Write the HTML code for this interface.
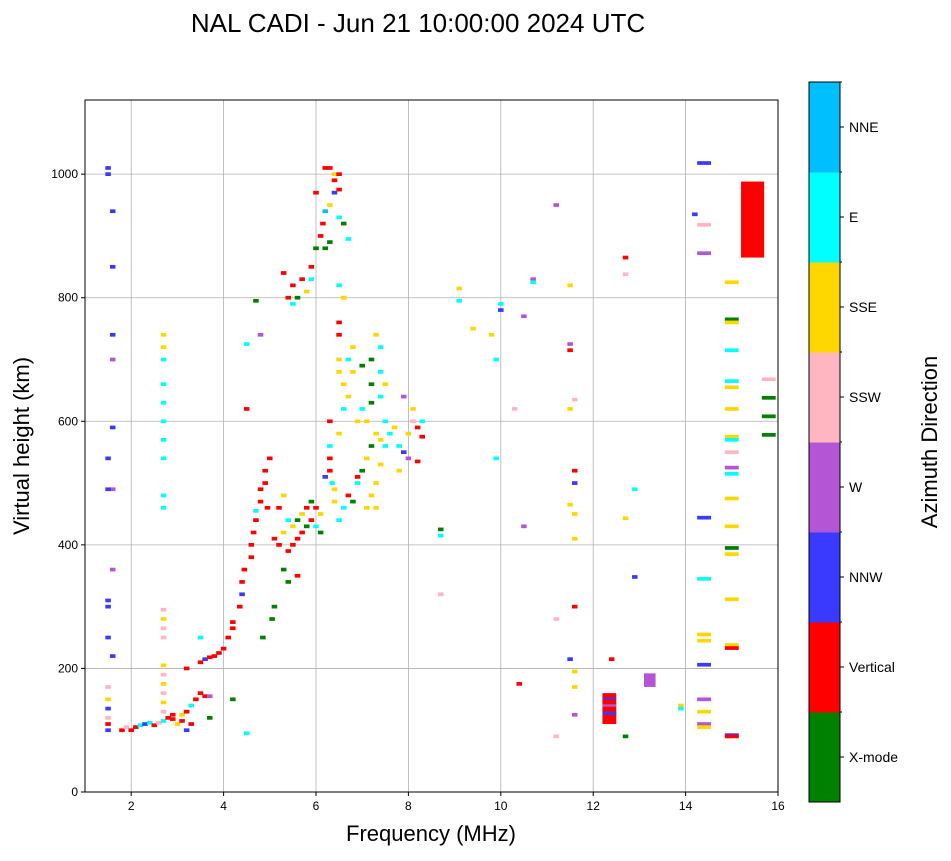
<!DOCTYPE html>
<html><head><meta charset="utf-8"><style>
body{margin:0;background:#fff;}
svg text{font-family:"Liberation Sans",sans-serif;}
</style></head><body>
<svg id="chart" width="951" height="856" xmlns="http://www.w3.org/2000/svg">
<rect width="951" height="856" fill="#fff"/>
<text x="418" y="32" font-size="26" text-anchor="middle">NAL CADI - Jun 21 10:00:00 2024 UTC</text>
<defs><clipPath id="plotclip"><rect x="85" y="100" width="693" height="692"/></clipPath></defs>
<g id="grid"></g>
<g id="marks" clip-path="url(#plotclip)"></g>
<rect x="85" y="100" width="693" height="692" fill="none" stroke="#000" stroke-width="1"/>
<g id="ticks"></g>
<text x="431" y="841" font-size="22" text-anchor="middle">Frequency (MHz)</text>
<text transform="translate(29,446) rotate(-90)" font-size="22" text-anchor="middle">Virtual height (km)</text>
<g id="cbar"></g>
<text transform="translate(937,442) rotate(-90)" font-size="22" text-anchor="middle">Azimuth Direction</text>
</svg>
<script>
const dirNames=["X-mode","Vertical","NNW","W","SSW","SSE","E","NNE"];
const dirColors=["#008000","#ff0000","#3a3aff","#b455d6","#ffb6c1","#ffd700","#00ffff","#00bfff"];
const xTicks=[2,4,6,8,10,12,14,16];
const yTicks=[0,200,400,600,800,1000];
const freq=[1.5,1.5,1.5,1.5,1.5,1.5,1.5,1.5,1.5,1.5,1.5,1.5,1.6,1.6,1.6,1.6,1.6,1.6,1.6,1.6,1.5,
1.8,1.9,2.0,2.1,2.2,2.3,2.4,2.5,2.6,2.7,2.8,2.9,3.0,3.1,3.2,3.3,2.9,3.1,3.2,
2.7,2.7,2.7,2.7,2.7,2.7,2.7,2.7,2.7,2.7,2.7,2.7,2.7,2.7,2.7,2.7,2.7,2.7,2.7,2.7,
3.3,3.4,3.5,3.6,3.7,3.5,3.6,3.7,3.8,3.9,4.0,4.1,4.2,4.2,3.2,3.5,3.7,4.2,4.5,
4.35,4.4,4.4,4.45,4.5,4.5,4.6,4.6,4.65,4.7,4.7,4.8,4.8,4.9,4.9,5.0,4.95,4.7,4.8,4.85,5.05,5.1,
5.1,5.2,5.3,5.4,5.4,5.5,5.5,5.6,5.6,5.7,5.7,5.8,5.8,5.9,5.9,6.0,6.0,6.1,6.1,5.3,5.4,5.6,5.2,5.3,
5.3,5.4,5.5,5.5,5.6,5.7,5.8,5.9,5.9,6.0,6.0,6.1,6.15,6.2,6.2,6.2,6.3,6.3,6.4,6.4,6.5,6.5,6.4,6.3,6.5,6.6,6.7,6.5,6.6,
6.3,6.3,6.3,6.35,6.4,6.4,6.2,
6.5,6.6,6.7,6.8,6.9,7.0,7.1,7.2,7.3,7.4,7.5,7.2,7.3,7.1,7.3,7.4,6.5,6.5,6.5,6.5,6.6,6.6,6.7,6.7,6.8,6.8,6.9,7.0,7.0,7.2,7.2,7.2,7.3,7.4,7.4,7.4,7.5,7.5,7.1,6.6,6.9,6.3,6.5,
7.6,7.7,7.8,7.9,8.0,8.1,8.2,8.3,8.1,8.3,8.0,7.9,7.8,8.2,
8.7,8.7,8.7,9.1,9.1,9.4,9.8,9.9,9.9,10.0,10.0,10.3,10.4,10.5,10.5,10.7,10.7,11.2,11.2,11.2,11.5,11.5,11.5,11.5,11.6,11.6,11.6,11.5,11.6,11.6,11.6,11.5,11.6,11.6,11.6,12.4,12.7,12.7,12.7,12.7,12.9,12.9,13.9,13.9,14.2,14.4,14.4,14.4,14.4,14.4,14.4,14.4,14.4,14.4,14.4,14.4,14.4,
15.0,15.0,15.0,15.0,15.0,15.0,15.0,15.0,15.0,15.0,15.0,15.0,15.0,15.0,15.0,15.0,15.0,15.0,15.0,15.0,15.0,15.8,15.8,15.8,15.8];
const height=[100,110,120,135,150,170,300,310,250,540,1000,1010,940,850,740,700,590,490,360,220,490,
100,105,100,105,108,110,112,108,112,115,120,118,110,115,100,110,125,125,130,
130,145,160,175,190,205,250,265,280,295,460,480,540,570,600,630,660,700,720,740,
140,150,160,155,155,210,215,218,220,225,232,250,265,275,200,250,120,150,95,
300,320,340,360,620,725,380,400,420,440,455,470,490,500,520,540,460,795,740,250,280,300,
410,400,420,440,390,400,430,410,440,420,450,430,460,440,470,430,460,420,450,360,340,350,460,480,
840,800,790,820,800,830,810,850,830,880,970,900,920,940,1010,880,890,950,990,1000,1000,975,970,1010,930,920,895,820,800,
540,520,560,500,470,490,510,
440,460,480,470,500,520,540,560,580,570,560,480,500,460,460,530,760,740,700,680,660,620,640,700,680,720,600,620,690,660,630,700,740,720,680,640,600,660,600,800,510,600,580,
580,590,560,550,580,600,590,575,620,600,540,640,520,535,
425,415,320,815,795,750,740,700,540,790,780,620,175,770,430,830,825,950,280,90,820,725,715,620,635,520,500,465,450,410,300,215,195,170,125,215,865,838,443,90,490,348,140,135,935,1018,918,872,444,345,255,245,206,150,130,110,105,
825,765,760,715,665,655,620,575,570,550,525,515,475,430,395,385,312,238,233,92,90,668,638,608,578];
const dir=[2,1,4,2,5,4,2,2,2,2,2,2,2,2,2,3,2,3,3,2,2,
1,4,1,1,6,2,6,1,4,6,1,1,5,1,2,1,1,5,1,
4,5,4,5,4,5,4,4,5,4,6,6,6,6,6,6,6,6,5,5,
6,1,1,1,3,1,2,1,1,1,1,1,1,1,1,6,0,0,6,
1,2,1,1,1,6,1,1,1,1,6,1,1,1,1,1,1,0,3,0,0,0,
1,1,5,6,1,1,5,1,0,1,5,0,1,1,0,6,1,0,5,0,0,1,1,5,
1,1,6,1,0,1,5,1,6,0,1,1,1,7,1,0,0,5,1,5,1,1,2,1,6,0,6,6,5,
1,1,6,6,5,5,2,
6,6,1,0,6,0,5,0,5,5,6,5,5,5,5,5,1,1,5,5,5,6,5,6,5,5,5,6,0,0,0,0,5,6,6,6,6,5,5,5,1,1,5,
6,5,6,2,5,4,1,1,5,6,3,3,5,1,
0,6,4,5,6,5,5,6,6,6,2,4,1,3,3,3,6,3,4,4,5,3,1,5,4,1,2,5,5,5,1,2,5,5,3,1,1,4,5,0,6,2,5,6,2,2,4,3,2,6,5,5,2,3,5,3,5,
5,0,5,6,6,5,5,5,6,4,3,6,5,5,0,5,5,5,1,2,1,4,0,0,0];
const blockFreq=[15.2,12.2,12.2,12.2,12.2,13.1];
const blockFreqEnd=[15.7,12.5,12.5,12.5,12.5,13.35];
const blockLow=[865,110,125,138,150,170];
const blockHigh=[988,160,130,142,153,192];
const blockDir=[1,1,2,3,2,3];

const X0=85,X1=778,Y0=792,Y1=100,FMIN=1,FMAX=16,HMIN=0,HMAX=1120;
const xs=f=>X0+(f-FMIN)/(FMAX-FMIN)*(X1-X0);
const ys=h=>Y0-(h-HMIN)/(HMAX-HMIN)*(Y0-Y1);
const NS="http://www.w3.org/2000/svg";
function mk(tag,attrs,parent){const e=document.createElementNS(NS,tag);for(const k in attrs)e.setAttribute(k,attrs[k]);parent.appendChild(e);return e;}
const grid=document.getElementById('grid'),ticks=document.getElementById('ticks'),marks=document.getElementById('marks'),cbar=document.getElementById('cbar');
xTicks.forEach(t=>{const x=xs(t);
 const g=mk('line',{x1:x,x2:x,y1:Y1,y2:Y0,stroke:'#b0b0b0','stroke-width':0.8},grid);
 
 
 mk('line',{x1:x,x2:x,y1:Y0,y2:Y0+4,stroke:'#000'},ticks);
 const l=mk('text',{x:x,y:Y0+18,'font-size':12,'text-anchor':'middle'},ticks);l.textContent=t;
 
 
});
yTicks.forEach(t=>{const y=ys(t);
 const g=mk('line',{x1:X0,x2:X1,y1:y,y2:y,stroke:'#b0b0b0','stroke-width':0.8},grid);
 
 
 mk('line',{x1:X0-4,x2:X0,y1:y,y2:y,stroke:'#000'},ticks);
 const l=mk('text',{x:X0-7,y:y+4,'font-size':12,'text-anchor':'end'},ticks);l.textContent=t;
 
 
});
const nPts=Math.min(freq.length,height.length,dir.length);
for(let i=0;i<nPts;i++){
 const w=freq[i]>=14.3?0.3:0.12;
 const r=mk('rect',{x:xs(freq[i]-w/2),y:ys(height[i]+3),width:xs(freq[i]+w/2)-xs(freq[i]-w/2),height:ys(height[i]-3)-ys(height[i]+3),fill:dirColors[dir[i]]},marks);
 
 
}
for(let i=0;i<blockFreq.length;i++){
 const r=mk('rect',{x:xs(blockFreq[i]),y:ys(blockHigh[i]),width:xs(blockFreqEnd[i])-xs(blockFreq[i]),height:ys(blockLow[i])-ys(blockHigh[i]),fill:dirColors[blockDir[i]]},marks);
 
 
}
const CX=809,CW=31,CT=82,CB=802,seg=(CB-CT)/dirNames.length;
dirNames.forEach((n,i)=>{const y=CB-(i+1)*seg;
 const r=mk('rect',{x:CX,y:y,width:CW,height:seg+0.5,fill:dirColors[i]},cbar);
 
 
 mk('line',{x1:CX+CW,x2:CX+CW+4,y1:y+seg/2,y2:y+seg/2,stroke:'#000'},cbar);
 mk('line',{x1:CX+CW,x2:CX+CW+2,y1:y,y2:y,stroke:'#000'},cbar);
 const l=mk('text',{x:CX+CW+9,y:y+seg/2+5,'font-size':14},cbar);l.textContent=n;
 
 
});
mk('rect',{x:CX,y:CT,width:CW,height:CB-CT,fill:'none',stroke:'#000'},cbar);
</script>
</body></html>
